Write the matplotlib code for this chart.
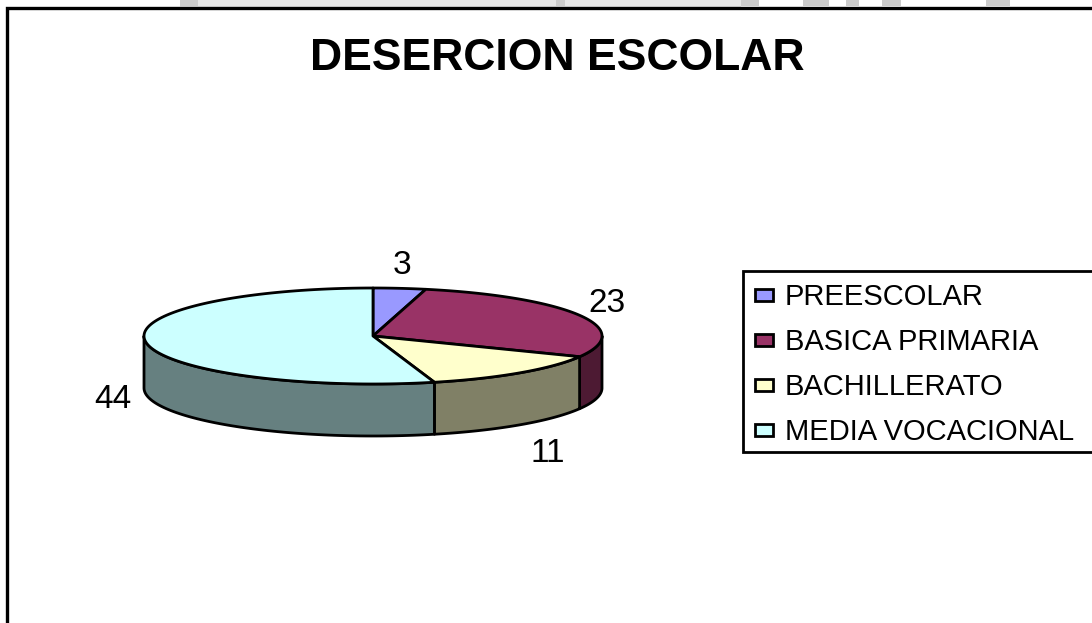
import numpy as np
import matplotlib
matplotlib.use("Agg")
import matplotlib.pyplot as plt
from matplotlib.patches import Polygon, Rectangle

plt.rcParams['font.family'] = ['Liberation Sans', 'DejaVu Sans']

title = "DESERCION ESCOLAR"
categories = ["PREESCOLAR", "BASICA PRIMARIA", "BACHILLERATO", "MEDIA VOCACIONAL"]
values = [3, 23, 11, 44]
top_colors = ["#9999FF", "#993366", "#FFFFCC", "#CCFFFF"]
side_colors = ["#4D4D80", "#4D1A33", "#808066", "#668080"]
label_pos = [(402, 265), (607, 303), (548, 453), (113, 400)]

W, H = 1092, 623
fig = plt.figure(figsize=(W / 100, H / 100), dpi=100)
ax = fig.add_axes([0, 0, 1, 1])
ax.set_xlim(0, W)
ax.set_ylim(H, 0)
ax.axis("off")

# faint strip of the page behind the chart, above the frame
ax.add_patch(Rectangle((180, 0), 561, 7, fc="#E6E6E6", ec="none", zorder=0))
for bx, bw in [(180, 18), (556, 9), (741, 18), (803, 26), (846, 13), (882, 19), (986, 24)]:
    ax.add_patch(Rectangle((bx, 0), bw, 6, fc="#CCCCCC", ec="none", zorder=0))

# frame
ax.add_patch(Rectangle((7, 8), W + 20, H + 20, fc="white", ec="black", lw=2.4, zorder=1))

cx, cy, rx, ry, depth = 373, 336, 229, 48, 52

def pt(theta):
    return cx + rx * np.sin(theta), cy - ry * np.cos(theta)

angles = np.concatenate([[0], np.cumsum(values)]) / np.sum(values) * 2 * np.pi

# side walls (front half only)
for i in range(len(values)):
    a = max(angles[i], np.pi / 2)
    b = min(angles[i + 1], 3 * np.pi / 2)
    if b <= a:
        continue
    t = np.linspace(a, b, 80)
    x, y = pt(t)
    poly = np.r_[np.c_[x, y], np.c_[x, y + depth][::-1]]
    ax.add_patch(Polygon(poly, closed=True, fc=side_colors[i], ec="black", lw=2, joinstyle="round", zorder=2))

# top wedges
for i in range(len(values)):
    t = np.linspace(angles[i], angles[i + 1], 120)
    x, y = pt(t)
    poly = np.r_[[[cx, cy]], np.c_[x, y]]
    ax.add_patch(Polygon(poly, closed=True, fc=top_colors[i], ec="black", lw=2, joinstyle="round", zorder=3))

# data labels
for v, (lx, ly) in zip(values, label_pos):
    ax.text(lx, ly, str(v), fontsize=24, ha="center", va="center", color="black", zorder=5)

ax.text(557, 58, title, fontsize=32, fontweight="bold", ha="center", va="center", zorder=5)

# legend
ax.add_patch(Rectangle((743, 271), W, 181, fc="white", ec="black", lw=2, zorder=4))
rows = [295, 340, 385, 430]
for c, col, row in zip(categories, top_colors, rows):
    ax.add_patch(Rectangle((755, row - 6), 18, 12, fc=col, ec="black", lw=2, zorder=5))
    ax.text(785, row + 2, c, fontsize=21, ha="left", va="center", zorder=5)

fig.savefig("out.png", dpi=100, facecolor="white")
